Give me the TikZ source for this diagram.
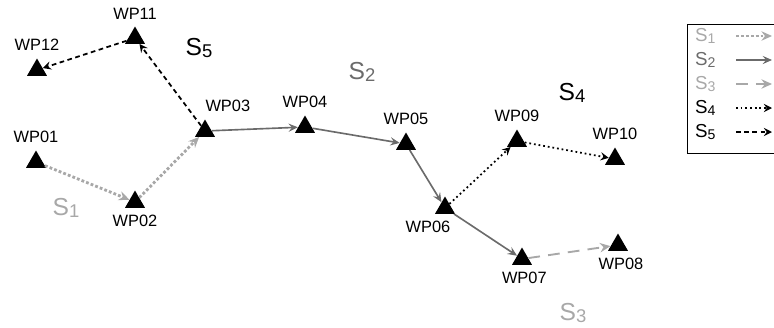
\documentclass[tikz,border=0pt]{standalone}
\usepackage{fontspec}
\setmainfont{Liberation Sans}
\usetikzlibrary{arrows.meta, positioning, shapes.geometric}
\definecolor{lightseg}{gray}{0.66}
\definecolor{darkseg}{gray}{0.42}
\newcommand{\segname}[1]{S\raisebox{-0.1em}{\scalebox{0.75}{#1}}}
\tikzset{
wp/.style={regular polygon, regular polygon sides=3, fill=black, inner sep=0pt, minimum size=0.69cm}, % waypoint marker
wplabel/.style={inner sep=0pt, font=\fontsize{14}{14}\selectfont},
seglabel/.style={inner sep=0pt, font=\fontsize{21}{21}\selectfont},
legtext/.style={inner sep=0pt, anchor=west, font=\fontsize{16}{16}\selectfont},
segone/.style={draw=lightseg, line width=2.4pt, dash pattern=on 2.4pt off 1.8pt, -{Stealth[length=9pt,width=8pt,inset=3pt,fill=lightseg]}},
segtwo/.style={draw=darkseg, line width=1.4pt, -{Stealth[length=8pt,width=7pt,inset=3pt,fill=darkseg]}},
segthree/.style={draw=lightseg, line width=1.6pt, dash pattern=on 10pt off 7pt, -{Stealth[length=9pt,width=8pt,inset=3pt,fill=lightseg]}},
segfour/.style={draw=black, line width=1.5pt, dash pattern=on 1.5pt off 2.5pt, -{Stealth[length=7pt,width=7pt,inset=2.5pt]}},
segfive/.style={draw=black, line width=1.5pt, dash pattern=on 4pt off 3pt, -{Stealth[length=7pt,width=7pt,inset=2.5pt]}},
}
\begin{document}
\begin{tikzpicture}[x=0.03cm, y=-0.03cm]
  \useasboundingbox (0,0) rectangle (774,327);
  % waypoints
  \node[wp] (wp01) at (36,162) {};
  \node[wp] (wp02) at (135,202) {};
  \node[wp] (wp03) at (205,131) {};
  \node[wp] (wp04) at (305,127) {};
  \node[wp] (wp05) at (406,144) {};
  \node[wp] (wp06) at (445,208) {};
  \node[wp] (wp07) at (522,259) {};
  \node[wp] (wp08) at (618,245) {};
  \node[wp] (wp09) at (517,141) {};
  \node[wp] (wp10) at (615,159) {};
  \node[wp] (wp11) at (135,38) {};
  \node[wp] (wp12) at (37,70) {};

  \node[wplabel, above=6pt of wp01] (wp01-l) {WP01};
  \node[wplabel, below=6pt of wp02] (wp02-l) {WP02};
  \node[wplabel, above=6pt of wp03, xshift=19.5pt] (wp03-l) {WP03};
  \node[wplabel, above=6pt of wp04] (wp04-l) {WP04};
  \node[wplabel, above=6pt of wp05] (wp05-l) {WP05};
  \node[wplabel, below=6pt of wp06, xshift=-14.5pt] (wp06-l) {WP06};
  \node[wplabel, below=6pt of wp07, xshift=2pt] (wp07-l) {WP07};
  \node[wplabel, below=6pt of wp08, xshift=2.5pt] (wp08-l) {WP08};
  \node[wplabel, above=6pt of wp09] (wp09-l) {WP09};
  \node[wplabel, above=6pt of wp10] (wp10-l) {WP10};
  \node[wplabel, above=5pt of wp11] (wp11-l) {WP11};
  \node[wplabel, above=6pt of wp12] (wp12-l) {WP12};

  % segment names
  \node[seglabel, text=lightseg] (s1) at (66,208) {\segname{1}};
  \node[seglabel, text=darkseg] (s2) at (362,72) {\segname{2}};
  \node[seglabel, text=lightseg] (s3) at (573,313) {\segname{3}};
  \node[seglabel] (s4) at (572,93) {\segname{4}};
  \node[seglabel] (s5) at (199,48) {\segname{5}};

  \path
  (wp01) edge[segone] (wp02)
  (wp02) edge[segone] (wp03)
  (wp03) edge[segtwo] (wp04)
  (wp04) edge[segtwo] (wp05)
  (wp05) edge[segtwo] (wp06)
  (wp06) edge[segtwo] (wp07)
  (wp07) edge[segthree] (wp08)
  (wp06) edge[segfour] (wp09)
  (wp09) edge[segfour] (wp10)
  (wp03) edge[segfive] (wp11)
  (wp11) edge[segfive] (wp12);

  % legend
  \draw[line width=0.8pt] (687,24) rectangle (780,153);
  \node[legtext, text=lightseg] (leg1) at (695,36) {\segname{1}};
  \node[legtext, text=darkseg] (leg2) at (695,60) {\segname{2}};
  \node[legtext, text=lightseg] (leg3) at (695,84) {\segname{3}};
  \node[legtext] (leg4) at (695,108) {\segname{4}};
  \node[legtext] (leg5) at (695,132) {\segname{5}};
  \coordinate (leg1a) at (736,36);  \coordinate (leg1b) at (772,36);
  \coordinate (leg2a) at (736,60);  \coordinate (leg2b) at (772,60);
  \coordinate (leg3a) at (736,84);  \coordinate (leg3b) at (772,84);
  \coordinate (leg4a) at (736,108); \coordinate (leg4b) at (772,108);
  \coordinate (leg5a) at (736,132); \coordinate (leg5b) at (772,132);
  \path
  (leg1a) edge[segone] (leg1b)
  (leg2a) edge[segtwo] (leg2b)
  (leg3a) edge[segthree] (leg3b)
  (leg4a) edge[segfour] (leg4b)
  (leg5a) edge[segfive] (leg5b);
\end{tikzpicture}
\end{document}
